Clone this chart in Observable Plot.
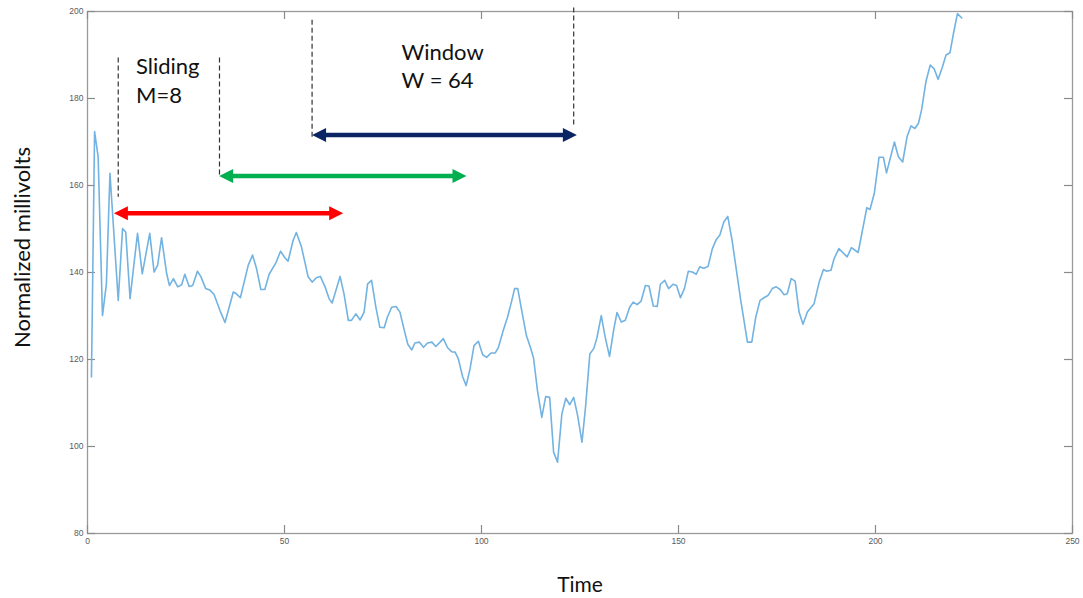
<!DOCTYPE html>
<html>
<head>
<meta charset="utf-8">
<script src="https://cdn.jsdelivr.net/npm/d3@7"></script>
<script src="https://cdn.jsdelivr.net/npm/@observablehq/plot@0.6"></script>
<style>
  html, body { margin: 0; padding: 0; background: #fff; }
  #chart svg { display: block; }
</style>
</head>
<body>
<div id="chart"></div>
<script>
// ---- data ----
const time = [
  1,1.8,2.7,3.8,4.8,5.7,7.8,8.9,9.7,10.8,11.9,12.7,13.9,15.8,16.9,17.8,18.8,20.1,20.8,21.8,
  22.9,23.9,24.7,25.8,26.7,27.9,28.8,30,31,32.1,33.6,34.9,36.2,37,37.8,38.8,40.8,41.9,42.9,44,
  45,46.1,47.8,49,50.1,50.9,52.2,53,54.3,56,57,58.1,59.1,60.3,61.3,62.1,64.1,65.1,66.2,67,
  68.1,69.2,70.2,71.1,72.1,73.2,74.2,75.3,76.1,77.2,78.3,79.3,80.3,81.3,82.3,83.1,84.2,85.3,86.3,87.4,
  88.4,89.5,90.3,91.4,92.4,93.3,94.1,95.2,96.1,97.1,98.1,99.2,100.3,101.3,102.4,103.5,104.3,105.4,106.6,107.7,
  108.4,109.2,110.2,111.4,112.4,113.2,114.2,115.3,116.3,117.3,118.3,119.3,120.4,121.4,122.4,123.4,124.4,125.5,126.4,127.5,
  128.5,129.3,130.4,131.4,132.5,133.6,134.4,135.5,136.5,137.6,138.5,139.5,140.5,141.6,142.5,143.6,144.6,145.4,146.5,147.5,
  148.6,149.5,150.5,151.5,152.5,153.5,154.5,155.4,156.4,157.5,158.6,159.6,160.5,161.5,162.5,163.6,164.7,165.8,167.5,168.6,
  169.6,170.7,171.7,172.7,173.8,174.8,175.8,176.8,177.6,178.6,179.6,180.6,181.6,182.7,184.4,185.7,186.8,187.6,188.7,189.5,
  190.7,192.8,193.9,195.6,197.8,198.6,199.7,200.9,202,202.8,204.8,205.8,206.9,208,209,210,210.9,211.7,212.8,213.9,
  214.9,215.9,216.9,217.9,218.9,219.8,220.8,221.9
];
const millivolts = [
  116,172.4,166.6,130.1,137.4,162.8,133.6,150.1,149.3,134,142.8,149,139.7,149,140.1,141.7,148,139.7,137,138.6,
  136.7,137.2,139.6,136.8,137,140.3,139,136.3,136,135,131.3,128.5,132.8,135.5,135.1,134.2,141.7,144,140.9,136.1,
  136.1,139.6,142.2,144.9,143.4,142.6,147.4,149.2,145.9,139,137.8,138.8,139.1,136.7,134,133,139.1,135.1,129,129,
  130.5,129.1,130.9,137.4,138.2,132,127.4,127.3,129.7,132,132.2,130.9,127.1,123.5,122.2,123.8,124,122.8,123.8,124,
  123,124,124.8,122.7,121.8,121.7,120.2,116.1,114,117.9,123.2,124.2,121.1,120.5,121.5,121.5,122.8,126.3,129.7,133.6,
  136.3,136.3,131.3,125.5,122.8,120.4,112.9,106.7,111.5,111.3,98.7,96.4,107.5,111.1,109.6,111.3,107.1,101,109,121.3,
  122.5,125,130.1,125.1,120.7,127.1,130.8,128.6,129,132,133.2,132.6,133.4,137,136.9,132.3,132.2,137.3,138.2,136.3,
  137.3,137,134.2,136.3,140.3,140.1,139.6,141.3,141,141.4,145.5,147.6,148.6,151.6,152.9,147.4,140.5,133.6,124,124,
  129.7,133.6,134.2,134.7,136.3,136.7,136.1,134.9,135.1,138.6,138,130.9,128.1,130.9,132.8,137.8,140.7,140.3,140.5,143.2,
  145.5,143.6,145.7,144.6,154.9,154.5,158.2,166.5,166.5,162.9,170,166.6,165.4,171.2,173.7,173.1,174.3,177.4,183.9,187.7,
  186.8,184.4,187,190,190.5,195,199.5,198.5
];
const xTicks = [0, 50, 100, 150, 200, 250];
const yTicks = [80, 100, 120, 140, 160, 180, 200];

// annotation values (in chart units)
const markerTime   = [7.8, 33.5, 57, 123.4];
const markerTop    = [189.3, 189.3, 198, 200.8];
const markerBottom = [157.3, 162.3, 171.1, 173.2];

const spanNames = ["sliding-1", "sliding-2", "window"];
const spanStart = [6.7, 33.4, 57];
const spanEnd   = [64.9, 96.2, 124.2];
const spanLevel = [153.6, 162.2, 171.6];
const spanColor = ["#ff0000", "#00b050", "#0b2463"];

const noteText  = ["Sliding", "M=8", "Window", "W = 64"];
const noteTime  = [12.3, 12.3, 79.7, 79.7];
const noteLevel = [187.3, 180.6, 190.5, 184.0];

// ---- build ----
const series = time.map((t, i) => ({t, v: millivolts[i]}));
const spans = spanNames.map((n, i) => ({n, x1: spanStart[i], x2: spanEnd[i], y: spanLevel[i], c: spanColor[i]}));
const markers = markerTime.map((x, i) => ({x, y1: markerTop[i], y2: markerBottom[i]}));
const notes = noteText.map((s, i) => ({s, x: noteTime[i], y: noteLevel[i]}));

const W = 1083, H = 598, mL = 87, mR = 11, mT = 11, mB = 65;
const plotW = W - mL - mR, plotH = H - mT - mB, tickLen = 8;

const headL = 14, headHW = 7;
const headRight = {draw(ctx) { ctx.moveTo(0, 0); ctx.lineTo(-headL, -headHW); ctx.lineTo(-headL, headHW); ctx.closePath(); }};
const headLeft  = {draw(ctx) { ctx.moveTo(0, 0); ctx.lineTo(headL, -headHW); ctx.lineTo(headL, headHW); ctx.closePath(); }};

const chart = Plot.plot({
  width: W, height: H,
  marginLeft: mL, marginRight: mR, marginTop: mT, marginBottom: mB,
  style: {fontFamily: "Liberation Sans, sans-serif", background: "#fff"},
  x: {domain: [0, 250]},
  y: {domain: [80, 200]},
  marks: [
    Plot.frame({stroke: "#9a9a9a", strokeWidth: 1.3}),
    // inward ticks on all four sides
    Plot.tickX(xTicks, {x: d => d, insetTop: plotH - tickLen, stroke: "#8a8a8a", strokeWidth: 1.2}),
    Plot.tickX(xTicks, {x: d => d, insetBottom: plotH - tickLen, stroke: "#8a8a8a", strokeWidth: 1.2}),
    Plot.tickY(yTicks, {y: d => d, insetRight: plotW - tickLen, stroke: "#8a8a8a", strokeWidth: 1.2}),
    Plot.tickY(yTicks, {y: d => d, insetLeft: plotW - tickLen, stroke: "#8a8a8a", strokeWidth: 1.2}),
    Plot.axisX(xTicks, {tickSize: 0, tickPadding: 4, fontSize: 8.5, fill: "#5a5a5a", label: null}),
    Plot.axisY(yTicks, {tickSize: 0, tickPadding: 4, fontSize: 8.5, fill: "#5a5a5a", label: null}),
    Plot.text(["Normalized millivolts"], {frameAnchor: "left", textAnchor: "middle", lineAnchor: "middle", rotate: -90, dx: -65, dy: -25, fontSize: 22, fontFamily: "Lato", fill: "#111"}),
    Plot.text(["Time"], {frameAnchor: "bottom", textAnchor: "middle", lineAnchor: "middle", dy: 52, fontSize: 21, fontFamily: "Lato", fill: "#111"}),
    // signal
    Plot.line(series, {x: "t", y: "v", stroke: "#72b3e2", strokeWidth: 1.6}),
    // dashed markers
    Plot.ruleX(markers, {x: "x", y1: "y1", y2: "y2", stroke: "#333", strokeWidth: 1.2, strokeDasharray: "5,3"}),
    // double-headed arrows
    Plot.ruleY(spans, {x1: "x1", x2: "x2", y: "y", stroke: "c", strokeWidth: 4.5, insetLeft: 8, insetRight: 8}),
    Plot.dot(spans, {x: "x1", y: "y", fill: "c", stroke: null, symbol: headLeft, r: 8}),
    Plot.dot(spans, {x: "x2", y: "y", fill: "c", stroke: null, symbol: headRight, r: 8}),
    // labels
    Plot.text(notes, {x: "x", y: "y", text: "s", textAnchor: "start", fontSize: 22, fontFamily: "Lato", fill: "#111"})
  ]
});
document.getElementById("chart").appendChild(chart);
</script>
</body>
</html>
